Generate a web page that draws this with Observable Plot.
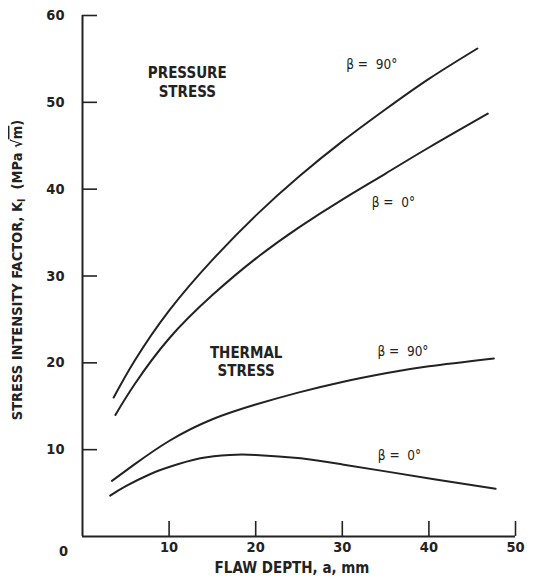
<!DOCTYPE html>
<html><head><meta charset="utf-8">
<script src="https://cdn.jsdelivr.net/npm/d3@7"></script>
<script src="https://cdn.jsdelivr.net/npm/@observablehq/plot@0.6"></script>
<style>
html,body{margin:0;padding:0;background:#fff;}
svg{font-family:"DejaVu Sans Condensed","Liberation Sans Narrow","DejaVu Sans",sans-serif;}
</style>
</head><body><div id="chart"></div>
<script>
// Flaw depth a (mm) and stress intensity factor K_I (MPa√m)
const pressure90X = [3.6, 6, 10, 15, 20, 25, 30, 35, 40, 45.6];
const pressure90Y = [16.0, 20.2, 26.0, 31.85, 36.95, 41.45, 45.5, 49.2, 52.7, 56.2];
const pressure0X  = [3.8, 6, 10, 15, 20, 25, 30, 35, 40, 46.8];
const pressure0Y  = [14.0, 17.5, 22.8, 27.8, 32.0, 35.6, 38.8, 41.8, 44.8, 48.7];
const thermal90X  = [3.4, 6, 10, 15, 20, 25, 30, 35, 40, 47.5];
const thermal90Y  = [6.4, 8.3, 11.0, 13.5, 15.2, 16.6, 17.8, 18.8, 19.6, 20.5];
const thermal0X   = [3.2, 5, 7.85, 10, 13.6, 17, 20, 25.2, 30, 35, 40.6, 47.7];
const thermal0Y   = [4.7, 5.8, 7.2, 8.0, 9.0, 9.4, 9.4, 9.0, 8.3, 7.5, 6.6, 5.5];

const xTicks = [10, 20, 30, 40, 50];
const yTicks = [10, 20, 30, 40, 50, 60];
const originLabel = ["0"];
const xLabel = "FLAW DEPTH, a, mm";
const yLabelParts = ["STRESS INTENSITY FACTOR, K", "I", "  (MPa \u221A", "m", ")"];
const groupLabels = ["PRESSURE\nSTRESS", "THERMAL\nSTRESS"];
const curveLabels = ["\u03B2 =  90\u00B0", "\u03B2 =  0\u00B0", "\u03B2 =  90\u00B0", "\u03B2 =  0\u00B0"];

const series = [
  {name: "pressure90", x: pressure90X, y: pressure90Y},
  {name: "pressure0", x: pressure0X, y: pressure0Y},
  {name: "thermal90", x: thermal90X, y: thermal90Y},
  {name: "thermal0", x: thermal0X, y: thermal0Y}
];
const lineData = series.flatMap(s => s.x.map((x, i) => ({series: s.name, x, y: s.y[i]})));

const ink = "#222";
const chart = Plot.plot({
  width: 533,
  height: 587,
  marginLeft: 82,
  marginRight: 18,
  marginTop: 15,
  marginBottom: 51,
  x: {domain: [0, 50]},
  y: {domain: [0, 60]},
  style: {background: "#fff", color: ink, overflow: "visible"},
  marks: [
    Plot.ruleX([0], {stroke: ink, strokeWidth: 2}),
    Plot.ruleY([0], {stroke: ink, strokeWidth: 2}),
    Plot.axisX(xTicks, {tickSize: -15, tickPadding: 20, fontSize: 14.5, fontWeight: "bold", stroke: ink, strokeWidth: 1.6, label: null}),
    Plot.axisY(yTicks, {tickSize: -15, tickPadding: 33, fontSize: 14.5, fontWeight: "bold", stroke: ink, strokeWidth: 1.6, label: null}),
    Plot.text(originLabel, {x: 0, y: 0, dx: -19, dy: 15, fontSize: 14.5, fontWeight: "bold", fill: ink}),
    Plot.line(lineData, {x: "x", y: "y", z: "series", curve: "natural", stroke: ink, strokeWidth: 2}),
    Plot.text([groupLabels[0]], {x: 12.1, y: 52.4, fontSize: 15, fontWeight: "bold", fill: ink, lineHeight: 1.25}),
    Plot.text([groupLabels[1]], {x: 18.9, y: 20.2, fontSize: 15, fontWeight: "bold", fill: ink, lineHeight: 1.25}),
    Plot.text([curveLabels[0]], {x: 33.4, y: 54.3, fontSize: 13.5, fill: ink}),
    Plot.text([curveLabels[1]], {x: 35.9, y: 38.5, fontSize: 13.5, fill: ink}),
    Plot.text([curveLabels[2]], {x: 37.0, y: 21.3, fontSize: 13.5, fill: ink}),
    Plot.text([curveLabels[3]], {x: 36.6, y: 9.3, fontSize: 13.5, fill: ink}),
    Plot.text([xLabel], {frameAnchor: "bottom", dx: -7, dy: 36, fontSize: 15, fontWeight: "bold", fill: ink})
  ]
});
document.getElementById("chart").appendChild(chart);

// y-axis title with subscript and overline
const svg = d3.select(chart);
const t = svg.append("text")
  .attr("transform", "translate(18,270) rotate(-90)")
  .attr("text-anchor", "middle")
  .attr("dominant-baseline", "middle")
  .attr("font-size", 14.5)
  .attr("font-weight", "bold")
  .attr("fill", ink);
t.append("tspan").text(yLabelParts[0]);
t.append("tspan").attr("font-size", 10).attr("dy", 4).text(yLabelParts[1]);
t.append("tspan").attr("dy", -4).attr("xml:space", "preserve").text(yLabelParts[2]);
t.append("tspan").attr("text-decoration", "overline").text(yLabelParts[3]);
t.append("tspan").text(yLabelParts[4]);
</script>
</body></html>
